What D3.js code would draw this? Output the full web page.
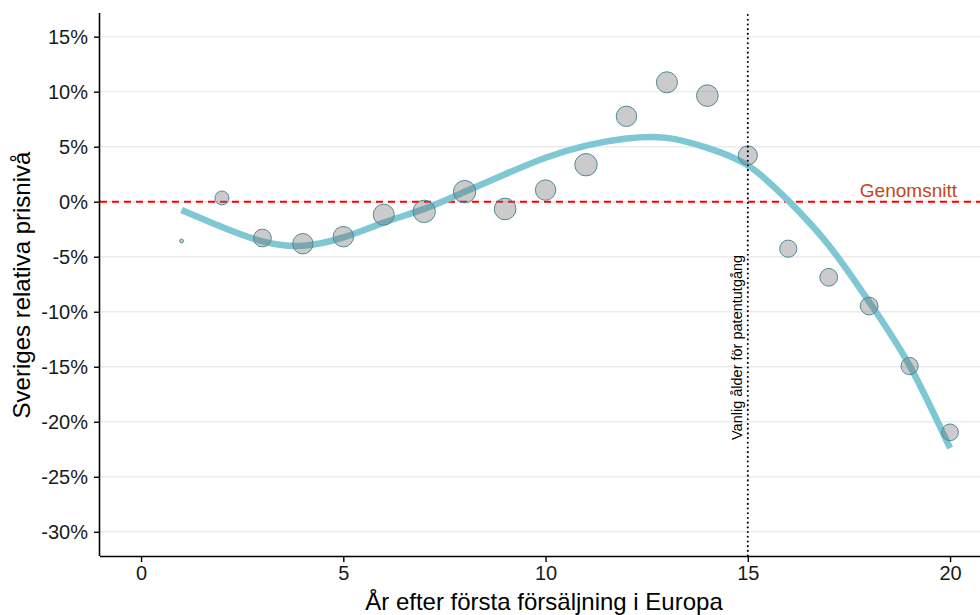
<!DOCTYPE html>
<html lang="sv">
<head>
<meta charset="utf-8">
<script src="https://cdn.jsdelivr.net/npm/d3@7"></script>
<style>
  html, body { margin: 0; padding: 0; background: #fff; }
  svg { display: block; font-family: "Liberation Sans", Arial, sans-serif; }
</style>
</head>
<body>
<svg id="chart" width="980" height="615"></svg>
<script>
// År efter första försäljning i Europa
const aar = [1, 2, 3, 4, 5, 6, 7, 8, 9, 10, 11, 12, 13, 14, 15, 16, 17, 18, 19, 20];
// Sveriges relativa prisnivå (%) per år
const prisniva = [-3.57, 0.34, -3.3, -3.82, -3.18, -1.18, -0.88, 0.91, -0.66, 1.06,
                  3.36, 7.76, 10.85, 9.64, 4.21, -4.27, -6.87, -9.48, -14.94, -20.96];
// Vikt (antal observationer) per år, styr cirklarnas storlek
const antal = [4, 53, 86, 114, 114, 121, 137, 137, 128, 114,
               137, 114, 121, 128, 100, 81, 86, 86, 81, 76];
// Anpassad trendkurva (%)
const trend = [-0.75, -2.3, -3.6, -4.0, -3.25, -1.9, -0.65, 0.9, 2.5, 4.0,
               5.1, 5.75, 5.8, 4.9, 3.3, 0.1, -3.95, -9.1, -14.9, -22.4];
// Axelmarkeringar
const xTicks = [0, 5, 10, 15, 20];
const yTicks = [-30, -25, -20, -15, -10, -5, 0, 5, 10, 15];
const genomsnitt = 0;
const patentAlder = 15;

const svg = d3.select("#chart");
const plotLeft = 100, plotRight = 980, plotTop = 13, plotBottom = 556;

const x = d3.scaleLinear().domain([-1.015, 20.74]).range([plotLeft, plotRight]);
const y = d3.scaleLinear().domain([-32.2, 17.15]).range([plotBottom, plotTop]);
const r = d3.scaleSqrt().domain([0, 137]).range([0, 11.2]);

// Horisontella stödlinjer
svg.append("g")
  .selectAll("line")
  .data(yTicks)
  .join("line")
  .attr("x1", plotLeft).attr("x2", plotRight)
  .attr("y1", d => y(d)).attr("y2", d => y(d))
  .attr("stroke", "#ebebeb")
  .attr("stroke-width", 1.4);

// Genomsnittslinje
svg.append("line")
  .attr("x1", plotLeft).attr("x2", plotRight)
  .attr("y1", y(genomsnitt)).attr("y2", y(genomsnitt))
  .attr("stroke", "#ff0000")
  .attr("stroke-width", 2)
  .attr("stroke-dasharray", "7,5");

// Trendkurva
const line = d3.line()
  .x((d, i) => x(aar[i]))
  .y(d => y(d))
  .curve(d3.curveNatural);
svg.append("path")
  .datum(trend)
  .attr("d", line)
  .attr("fill", "none")
  .attr("stroke", "#7fc7d3")
  .attr("stroke-width", 6.5);

// Punkter
svg.append("g")
  .selectAll("circle")
  .data(aar)
  .join("circle")
  .attr("cx", d => x(d))
  .attr("cy", (d, i) => y(prisniva[i]))
  .attr("r", (d, i) => r(antal[i]))
  .attr("fill", "#6e6e6e")
  .attr("fill-opacity", 0.36)
  .attr("stroke", "#4f8a99")
  .attr("stroke-width", 1);

// Vanlig ålder för patentutgång
svg.append("line")
  .attr("x1", x(patentAlder)).attr("x2", x(patentAlder))
  .attr("y1", 15).attr("y2", plotBottom)
  .attr("stroke", "#000")
  .attr("stroke-width", 2)
  .attr("stroke-linecap", "round")
  .attr("stroke-dasharray", "0.1,4.6");

svg.append("text")
  .attr("transform", `translate(${x(patentAlder) - 5.5},440) rotate(-90)`)
  .attr("font-size", 14.5)
  .attr("fill", "#000")
  .text("Vanlig ålder för patentutgång");

svg.append("text")
  .attr("x", 957).attr("y", y(genomsnitt) - 5)
  .attr("text-anchor", "end")
  .attr("font-size", 19)
  .attr("fill", "#c4461a")
  .text("Genomsnitt");

// Axlar
const xAxis = svg.append("g")
  .attr("transform", `translate(0,${plotBottom})`)
  .call(d3.axisBottom(x).tickValues(xTicks).tickSize(6).tickPadding(4).tickFormat(d3.format("d")));
const yAxis = svg.append("g")
  .attr("transform", `translate(${plotLeft},0)`)
  .call(d3.axisLeft(y).tickValues(yTicks).tickSize(6).tickPadding(6).tickFormat(d => d + "%"));

[xAxis, yAxis].forEach(g => {
  g.select(".domain").attr("stroke", "#000").attr("stroke-width", 1.6);
  g.selectAll(".tick line").attr("stroke", "#000").attr("stroke-width", 1.4);
  g.selectAll(".tick text")
    .attr("font-size", 20)
    .attr("font-family", "Liberation Sans, Arial, sans-serif")
    .attr("fill", "#1a1a1a");
});
xAxis.select(".domain").attr("d", `M${plotLeft},0.5H${plotRight}`);
yAxis.select(".domain").attr("d", `M-0.5,${plotTop}V${plotBottom}`);

// Axeltitlar
svg.append("text")
  .attr("x", 544).attr("y", 609.5)
  .attr("text-anchor", "middle")
  .attr("font-size", 24)
  .attr("fill", "#000")
  .text("År efter första försäljning i Europa");

svg.append("text")
  .attr("transform", "translate(29.5,285) rotate(-90)")
  .attr("text-anchor", "middle")
  .attr("font-size", 24)
  .attr("fill", "#000")
  .text("Sveriges relativa prisnivå");
</script>
</body>
</html>
